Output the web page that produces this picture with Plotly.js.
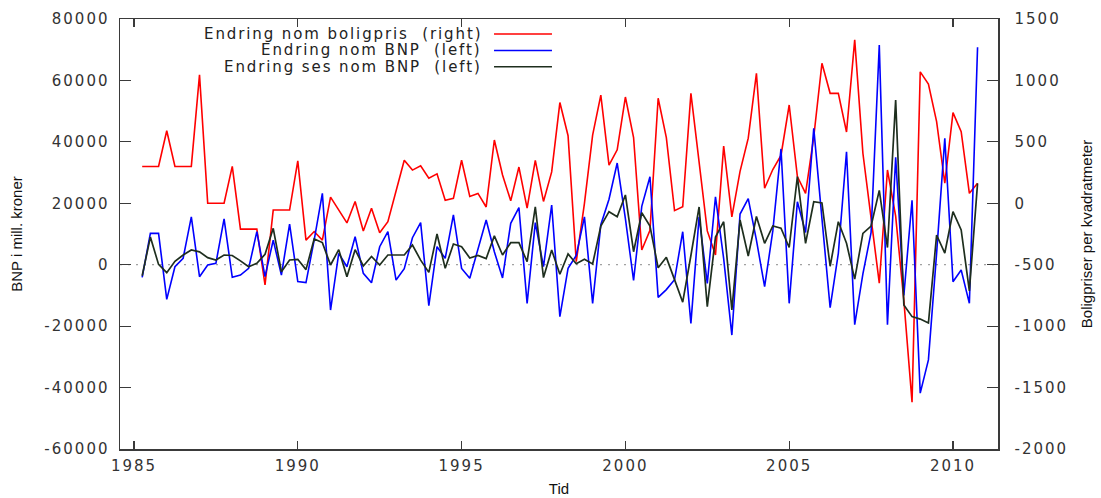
<!DOCTYPE html>
<html>
<head>
<meta charset="utf-8">
<script src="https://cdn.plot.ly/plotly-3.0.1.min.js"></script>
<style>
  html, body { margin: 0; padding: 0; background: #fff; }
  #chart { width: 1101px; height: 498px; }
  .xtick text, .ytick text, .y2tick text { letter-spacing: 2px; }
  .annotation-text { letter-spacing: 1.9px; }
</style>
</head>
<body>
<div id="chart"></div>
<script>
// Quarterly time points
const tid = [
  1985.25, 1985.5, 1985.75,
  1986, 1986.25, 1986.5, 1986.75,
  1987, 1987.25, 1987.5, 1987.75,
  1988, 1988.25, 1988.5, 1988.75,
  1989, 1989.25, 1989.5, 1989.75,
  1990, 1990.25, 1990.5, 1990.75,
  1991, 1991.25, 1991.5, 1991.75,
  1992, 1992.25, 1992.5, 1992.75,
  1993, 1993.25, 1993.5, 1993.75,
  1994, 1994.25, 1994.5, 1994.75,
  1995, 1995.25, 1995.5, 1995.75,
  1996, 1996.25, 1996.5, 1996.75,
  1997, 1997.25, 1997.5, 1997.75,
  1998, 1998.25, 1998.5, 1998.75,
  1999, 1999.25, 1999.5, 1999.75,
  2000, 2000.25, 2000.5, 2000.75,
  2001, 2001.25, 2001.5, 2001.75,
  2002, 2002.25, 2002.5, 2002.75,
  2003, 2003.25, 2003.5, 2003.75,
  2004, 2004.25, 2004.5, 2004.75,
  2005, 2005.25, 2005.5, 2005.75,
  2006, 2006.25, 2006.5, 2006.75,
  2007, 2007.25, 2007.5, 2007.75,
  2008, 2008.25, 2008.5, 2008.75,
  2009, 2009.25, 2009.5, 2009.75,
  2010, 2010.25, 2010.5, 2010.75
];

// Endring nom boligpris (right axis)
const boligpris = [
  300, 300, 300, 590, 300, 300, 300, 1045, 0, 0,
  0, 300, -210, -210, -210, -665, -55, -55, -55, 345,
  -300, -230, -300, 50, -55, -160, 15, -225, -40, -240,
  -150, 100, 350, 270, 305, 205, 240, 25, 40, 350,
  55, 80, -30, 515, 230, 20, 295, -40, 350, 15,
  255, 820, 550, -475, 0, 555, 880, 310, 435, 865,
  535, -380, -220, 855, 535, -60, -28, 895, 320, -225,
  -420, 465, -110, 260, 530, 1058, 122, 275, 390, 800,
  217, 81, 540, 1140, 895, 895, 580, 1330, 407, -136,
  -650, 271, -105, -790, -1620, 1070, 970, 665, 163, 738,
  583, 81, 163
];

// Endring nom BNP (left axis)
const bnp = [
  -4100, 10200, 10200, -11300, -650, 2100, 15600, -3900, -100, 450,
  14900, -4100, -3350, -1200, 10750, -3900, 8000, -3350, 13250, -5500,
  -5800, 8000, 23250, -14750, 3700, -650, 9100, -2800, -5860, 5860,
  10750, -4980, -1300, 8800, 13700, -13300, 5860, 2080, 16200, -1200,
  -4430, 4790, 14550, 4200, -4300, 13480, 18600, -12570, 13700, -650,
  19440, -16930, -1180, 3000, 15600, -12570, 13000, 21300, 33100, 15000,
  -5100, 19000, 28650, -10620, -8100, -4900, 10750, -19080, 15600, -6060,
  22100, 2000, -22900, 16500, 21500, 8000, -7160, 11000, 37700, -12570,
  20500, 10500, 44400, 15000, -14000, 3700, 36800, -19500, -3000, 10500,
  71500, -19500, 35000, -10000, 21000, -41800, -31000, 3700, 41150, -5530,
  -1730, -12570, 70800
];

// Endring ses nom BNP (left axis)
const bnpSes = [
  -3600, 9000, 100, -2600, 1100, 3160, 4790, 4200, 2300, 1530,
  3160, 3000, 1250, -650, 450, 3400, 11850, -2300, 1530, 1750,
  -1600, 8400, 7200, -100, 4900, -3900, 4900, -400, 2700, -100,
  3160, 3160, 3160, 6410, 1500, -2500, 10000, -1180, 6740, 5860,
  2200, 3000, 2000, 9400, 3160, 7160, 7160, 980, 18800, -4200,
  4790, -3100, 3500, 300, 1750, 230, 12600, 17260, 15630, 22700,
  4230, 16930, 12600, -1000, 2400, -4850, -12200, 3000, 18800, -13670,
  9000, 14000, -14750, 14550, 2830, 15700, 6970, 12600, 11900, 5600,
  28700, 6970, 20500, 20100, -500, 14000, 7000, -4700, 10220, 12600,
  24200, 5600, 53600, -13100, -16900, -17700, -19000, 9670, 3800, 17260,
  11300, -8500, 26500
];

// Tick labels
const xTickVals = [1985, 1990, 1995, 2000, 2005, 2010];
const xTickText = ['1985', '1990', '1995', '2000', '2005', '2010'];
const leftTickVals = [-60000, -40000, -20000, 0, 20000, 40000, 60000, 80000];
const leftTickText = ['-60000', '-40000', '-20000', '0', '20000', '40000', '60000', '80000'];
const rightTickVals = [-2000, -1500, -1000, -500, 0, 500, 1000, 1500];
const rightTickText = ['-2000', '-1500', '-1000', '-500', '0', '500', '1000', '1500'];

const seriesNames = [
  'Endring nom boligpris\u00a0 (right)',
  'Endring nom BNP\u00a0 (left)',
  'Endring ses nom BNP\u00a0 (left)'
];
const seriesColors = ['#ff0000', '#0000ff', '#1e2e1e'];

const frameColor = '#3a3a3a';
const tickFont = { family: 'DejaVu Sans, Verdana, sans-serif', size: 15, color: '#333333' };
const titleFont = { family: 'Liberation Sans, Arial, sans-serif', size: 15, color: '#111111' };

const traces = [
  { x: tid, y: boligpris, yaxis: 'y', type: 'scatter', mode: 'lines', name: seriesNames[0],
    line: { color: seriesColors[0], width: 1.6 }, showlegend: false },
  { x: tid, y: bnp, yaxis: 'y2', type: 'scatter', mode: 'lines', name: seriesNames[1],
    line: { color: seriesColors[1], width: 1.6 }, showlegend: false },
  { x: tid, y: bnpSes, yaxis: 'y2', type: 'scatter', mode: 'lines', name: seriesNames[2],
    line: { color: seriesColors[2], width: 1.7 }, showlegend: false }
];

// Manual gnuplot-style legend (text right, sample line to the right of text)
const legY = [0.965, 0.927, 0.889];
const annotations = seriesNames.map((n, i) => ({
  xref: 'paper', yref: 'paper', x: 0.415, y: legY[i],
  xanchor: 'right', yanchor: 'middle', align: 'right', showarrow: false, text: n,
  font: { family: 'DejaVu Sans, Verdana, sans-serif', size: 15, color: '#222222' }
}));
const shapes = seriesNames.map((n, i) => ({
  type: 'line', xref: 'paper', yref: 'paper', x0: 0.426, x1: 0.492, y0: legY[i], y1: legY[i],
  line: { color: seriesColors[i], width: 1.5 }
}));
shapes.push({
  type: 'line', xref: 'paper', yref: 'y2', x0: 0, x1: 1, y0: 0, y1: 0, layer: 'below',
  line: { color: '#8a8a8a', width: 1, dash: '2px,6px' }
});

const layout = {
  width: 1101, height: 498,
  margin: { l: 120, r: 103, t: 19, b: 49, pad: 0 },
  paper_bgcolor: '#ffffff', plot_bgcolor: '#ffffff',
  showlegend: false,
  xaxis: {
    range: [1984.573, 2011.374], tickvals: xTickVals, ticktext: xTickText,
    showgrid: false, zeroline: false, showline: true, linecolor: frameColor, linewidth: 1.5,
    mirror: 'ticks', ticks: 'inside', ticklen: 8, tickwidth: 1.2, tickcolor: frameColor,
    tickfont: tickFont, automargin: false, ticklabelstandoff: 2,
    title: { text: 'Tid', font: titleFont, standoff: 10 }
  },
  yaxis: {
    side: 'right', range: [-2000, 1500], tickvals: rightTickVals, ticktext: rightTickText,
    showgrid: false, zeroline: false, showline: true, linecolor: frameColor, linewidth: 1.5,
    ticks: 'inside', ticklen: 11, tickwidth: 1.2, tickcolor: frameColor,
    tickfont: tickFont, automargin: false, ticklabelstandoff: 12,
    title: { text: 'Boligpriser per kvadratmeter', font: titleFont, standoff: 14 }
  },
  yaxis2: {
    overlaying: 'y', side: 'left', range: [-60000, 80000], tickvals: leftTickVals, ticktext: leftTickText,
    showgrid: false, zeroline: false, showline: true, linecolor: frameColor, linewidth: 1.5,
    ticks: 'inside', ticklen: 11, tickwidth: 1.2, tickcolor: frameColor,
    tickfont: tickFont, automargin: false, ticklabelstandoff: 6,
    title: { text: 'BNP i mill. kroner', font: titleFont, standoff: 18 }
  },
  annotations: annotations,
  shapes: shapes
};

Plotly.newPlot('chart', traces, layout, { staticPlot: true, displayModeBar: false });
</script>
</body>
</html>
